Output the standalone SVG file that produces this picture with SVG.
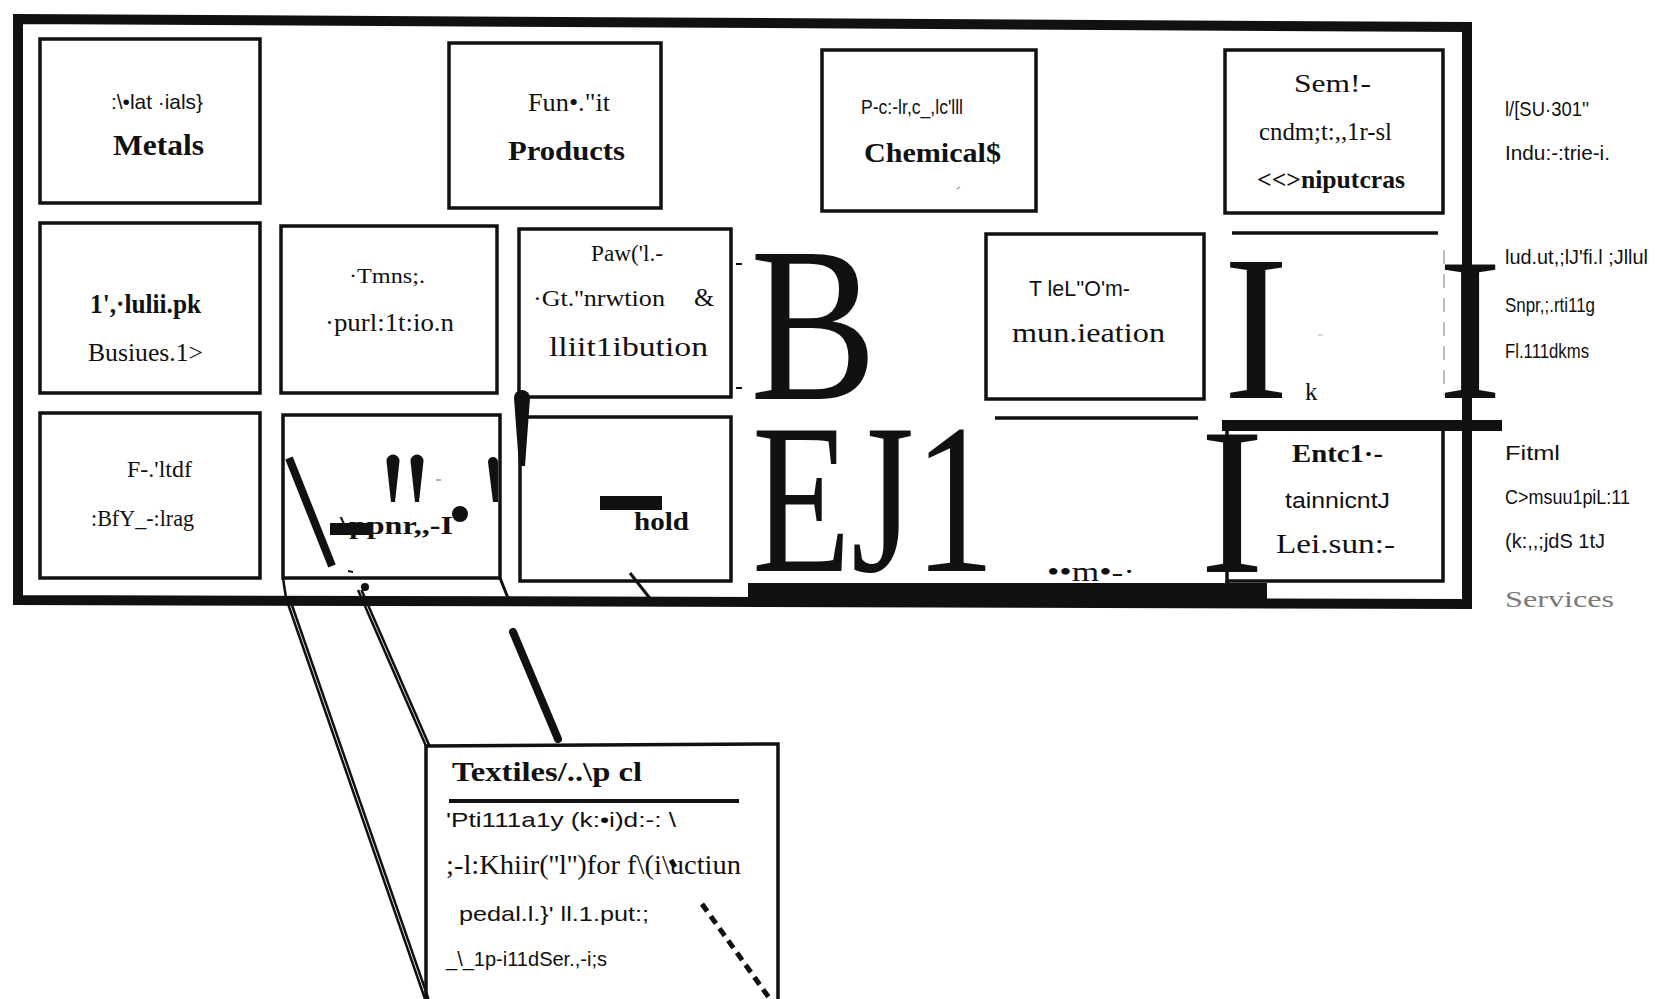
<svg xmlns="http://www.w3.org/2000/svg" width="1656" height="999" viewBox="0 0 1656 999">
<style>
.bx{fill:none;stroke:#111;stroke-width:3.5}
.sf{font-family:"Liberation Serif","Times New Roman",serif;fill:#111}
.ss{font-family:"Liberation Sans",Arial,sans-serif;fill:#111}
.b{font-weight:bold}
.big{font-family:"Liberation Serif","Times New Roman",serif;fill:#111}
.ln{stroke:#111;fill:none}
</style>
<rect width="1656" height="999" fill="#fff"/>
<g id="frame">
<path d="M18,19 L1467,27 L1467,604 L18,600 Z" fill="none" stroke="#111" stroke-width="10" stroke-linejoin="miter"/>
</g>
<g id="node-metals">
<rect class="bx" x="40" y="39" width="220" height="164"/>
<text class="ss" x="111" y="109" font-size="21" textLength="92" lengthAdjust="spacingAndGlyphs">:\•lat  ·ials}</text>
<text class="sf b" x="113" y="155" font-size="29" textLength="91" lengthAdjust="spacingAndGlyphs">Metals</text>
</g>
<g id="node-products">
<rect class="bx" x="449" y="43" width="212" height="165"/>
<text class="sf" x="528" y="111" font-size="25" textLength="82" lengthAdjust="spacingAndGlyphs">Fun•."it</text>
<text class="sf b" x="508" y="160" font-size="28" textLength="117" lengthAdjust="spacingAndGlyphs">Products</text>
</g>
<g id="node-chemicals">
<rect class="bx" x="822" y="50" width="214" height="161"/>
<text class="ss" x="861" y="114" font-size="21" textLength="102" lengthAdjust="spacingAndGlyphs">P-c:-lr,c_,lc'lll</text>
<text class="sf b" x="864" y="162" font-size="28" textLength="137" lengthAdjust="spacingAndGlyphs">Chemical$</text>
<line x1="960" y1="187" x2="957" y2="189" stroke="#999" stroke-width="1.5"/>
</g>
<g id="node-semiconductors">
<rect class="bx" x="1225" y="50" width="218" height="163"/>
<text class="sf" x="1294" y="92" font-size="26" textLength="77" lengthAdjust="spacingAndGlyphs">Sem!-</text>
<text class="sf" x="1259" y="140" font-size="26" textLength="133" lengthAdjust="spacingAndGlyphs">cndm;t:,,1r-sl</text>
<text class="sf b" x="1257" y="188" font-size="26" textLength="148" lengthAdjust="spacingAndGlyphs">&lt;&lt;&gt;niputcras</text>
</g>
<g id="label-basic-industries">
<text class="ss" x="1505" y="116" font-size="21" textLength="84" lengthAdjust="spacingAndGlyphs">l/[SU·301''</text>
<text class="ss" x="1505" y="160" font-size="21" textLength="105" lengthAdjust="spacingAndGlyphs">Indu:-:trie-i.</text>
</g>
<g id="node-public-works">
<rect class="bx" x="40" y="223" width="220" height="170"/>
<text class="sf b" x="90" y="313" font-size="27" textLength="111" lengthAdjust="spacingAndGlyphs">1',·lulii.pk</text>
<text class="sf" x="88" y="361" font-size="25" textLength="115" lengthAdjust="spacingAndGlyphs">Busiues.1&gt;</text>
</g>
<g id="node-transport">
<rect class="bx" x="281" y="226" width="216" height="167"/>
<text class="sf" x="349" y="283" font-size="22" textLength="76" lengthAdjust="spacingAndGlyphs">·Tmns;.</text>
<text class="sf" x="325" y="331" font-size="25" textLength="129" lengthAdjust="spacingAndGlyphs">·purl:1t:io.n</text>
</g>
<g id="node-power">
<rect class="bx" x="519" y="229" width="212" height="168"/>
<text class="sf" x="591" y="261" font-size="24" textLength="72" lengthAdjust="spacingAndGlyphs">Paw('l.-</text>
<text class="sf" x="533" y="306" font-size="24" textLength="132" lengthAdjust="spacingAndGlyphs">·Gt.''nrwtion</text>
<text class="sf" x="694" y="306" font-size="26">&amp;</text>
<text class="sf" x="549" y="356" font-size="27" textLength="159" lengthAdjust="spacingAndGlyphs">lliit1ibution</text>
<line x1="736" y1="264" x2="742" y2="264" stroke="#111" stroke-width="2"/>
<line x1="736" y1="388" x2="742" y2="388" stroke="#111" stroke-width="2"/>
</g>
<g id="big-letters">
<text class="big" x="750" y="399" font-size="220" textLength="127" lengthAdjust="spacingAndGlyphs">B</text>
<text class="big" x="752" y="571" font-size="215" textLength="243" lengthAdjust="spacingAndGlyphs">EJ1</text>
<text class="big" x="1223" y="398" font-size="207" textLength="66" lengthAdjust="spacingAndGlyphs">I</text>
<text class="big" x="1438" y="398" font-size="203" textLength="64" lengthAdjust="spacingAndGlyphs">I</text>
<text class="big" x="1200" y="572" font-size="210" textLength="64" lengthAdjust="spacingAndGlyphs">I</text>
<text class="sf" x="1305" y="400" font-size="25">k</text>
</g>
<g id="node-telecom">
<rect class="bx" x="986" y="234" width="218" height="165"/>
<text class="ss" x="1029" y="296" font-size="22" textLength="101" lengthAdjust="spacingAndGlyphs">T leL''O'm-</text>
<text class="sf" x="1012" y="342" font-size="27" textLength="153" lengthAdjust="spacingAndGlyphs">mun.ieation</text>
</g>
<g id="node-hidden">
<line class="ln" x1="1232" y1="233" x2="1438" y2="233" stroke-width="3.5"/>
<line x1="1444" y1="250" x2="1444" y2="395" stroke="#bbb" stroke-width="2" stroke-dasharray="14 10"/>
<line x1="1318" y1="335" x2="1323" y2="335" stroke="#ccc" stroke-width="1.5"/>
</g>
<g id="label-supporting-functions">
<text class="ss" x="1505" y="264" font-size="21" textLength="143" lengthAdjust="spacingAndGlyphs">lud.ut,;lJ'fi.l ;Jllul</text>
<text class="ss" x="1505" y="312" font-size="21" textLength="90" lengthAdjust="spacingAndGlyphs">Snpr,;.rti11g</text>
<text class="ss" x="1505" y="358" font-size="21" textLength="84" lengthAdjust="spacingAndGlyphs">Fl.111dkms</text>
</g>
<g id="node-retail">
<rect class="bx" x="40" y="413" width="220" height="165"/>
<text class="sf" x="127" y="477" font-size="24" textLength="65" lengthAdjust="spacingAndGlyphs">F-.'ltdf</text>
<text class="sf" x="91" y="526" font-size="24" textLength="103" lengthAdjust="spacingAndGlyphs">:BfY_-:lrag</text>
</g>
<g id="node-apparel">
<rect class="bx" x="283" y="415" width="217" height="163"/>
<line class="ln" x1="289" y1="458" x2="332" y2="566" stroke-width="8"/>
<path d="M386.5,461 A6.5,6.5 0 0 1 399.5,461 L395,502 L391,502 Z" fill="#111"/>
<path d="M410.5,461 A6.5,6.5 0 0 1 423.5,461 L419,502 L415,502 Z" fill="#111"/>
<path d="M488,462 A5,5 0 0 1 498,462 L498,502 L493,502 Z" fill="#111"/>
<rect x="330" y="523" width="40" height="12" fill="#111"/>
<text class="sf b" x="340" y="534" font-size="26" textLength="113" lengthAdjust="spacingAndGlyphs">\ppnr,,-I</text>
<circle cx="460" cy="514" r="8" fill="#111"/>
<line x1="436" y1="480" x2="441" y2="480" stroke="#999" stroke-width="1.5"/>
<line x1="348" y1="571" x2="353" y2="572" stroke="#111" stroke-width="2"/>
</g>
<g id="node-household">
<rect class="bx" x="520" y="417" width="211" height="164"/>
<rect x="600" y="496" width="62" height="14" fill="#111"/>
<text class="sf b" x="634" y="530" font-size="26" textLength="55" lengthAdjust="spacingAndGlyphs">hold</text>
<path d="M514,398 A8,8 0 0 1 530,398 L525,466 L519,466 Z" fill="#111"/>
</g>
<g id="node-consumer-bar">
<line class="ln" x1="995" y1="418" x2="1198" y2="418" stroke-width="3.5"/>
<rect x="748" y="583" width="519" height="18" fill="#111"/>
<text class="sf" x="1047" y="581" font-size="28" textLength="88" lengthAdjust="spacingAndGlyphs">••m•-·</text>
</g>
<g id="node-entertainment">
<rect class="bx" x="1227" y="428" width="216" height="153"/>
<rect x="1222" y="420" width="280" height="11" fill="#111"/>
<line class="ln" x1="1227" y1="581" x2="1227" y2="600" stroke-width="4"/>
<text class="sf b" x="1292" y="462" font-size="26" textLength="91" lengthAdjust="spacingAndGlyphs">Entc1·-</text>
<text class="ss" x="1285" y="508" font-size="22" textLength="105" lengthAdjust="spacingAndGlyphs">tainnicntJ</text>
<text class="sf" x="1276" y="553" font-size="28" textLength="119" lengthAdjust="spacingAndGlyphs">Lei.sun:-</text>
</g>
<g id="label-final-consumption">
<text class="ss" x="1505" y="460" font-size="21" textLength="55" lengthAdjust="spacingAndGlyphs">Fitml</text>
<text class="ss" x="1505" y="504" font-size="21" textLength="125" lengthAdjust="spacingAndGlyphs">C&gt;msuu1piL:11</text>
<text class="ss" x="1505" y="548" font-size="21" textLength="100" lengthAdjust="spacingAndGlyphs">(k:,,;jdS 1tJ</text>
<text class="sf" x="1505" y="607" font-size="24" style="fill:#7a7a7a" textLength="109" lengthAdjust="spacingAndGlyphs">Services</text>
</g>
<g id="connectors">
<line class="ln" x1="283" y1="578" x2="286" y2="598" stroke-width="2.5"/>
<line class="ln" x1="286" y1="598" x2="425" y2="999" stroke-width="2.5"/>
<line class="ln" x1="289.5" y1="598" x2="428.5" y2="999" stroke-width="2.5"/>
<line class="ln" x1="358" y1="590" x2="426" y2="746" stroke-width="2.5"/>
<line class="ln" x1="361.5" y1="590" x2="429.5" y2="746" stroke-width="2.5"/>
<circle cx="365" cy="587" r="4" fill="#111"/>
<line class="ln" x1="500" y1="578" x2="508" y2="598" stroke-width="3"/>
<line class="ln" x1="630" y1="573" x2="652" y2="601" stroke-width="3"/>
<line class="ln" x1="513" y1="632" x2="558" y2="739" stroke-width="8" stroke-linecap="round"/>
<line class="ln" x1="671" y1="860" x2="675" y2="867" stroke-width="5"/>
<line class="ln" x1="702" y1="904" x2="770" y2="999" stroke-width="5" stroke-dasharray="9 6"/>
</g>
<g id="node-textiles">
<path d="M426,999 L426,746 L778,744 L778,999" fill="none" stroke="#111" stroke-width="3.5"/>
<text class="sf b" x="452" y="781" font-size="28" textLength="190" lengthAdjust="spacingAndGlyphs">Textiles/..\p cl</text>
<line class="ln" x1="449" y1="801" x2="739" y2="801" stroke-width="4"/>
<text class="ss" x="446" y="827" font-size="21" textLength="230" lengthAdjust="spacingAndGlyphs">'Pti111a1y (k:•i)d:-: \</text>
<text class="sf" x="446" y="874" font-size="28" textLength="295" lengthAdjust="spacingAndGlyphs">;-l:Khiir(''l'')for f\(i\uctiun</text>
<text class="ss" x="459" y="921" font-size="21" textLength="190" lengthAdjust="spacingAndGlyphs">pedal.l.}' ll.1.put:;</text>
<text class="ss" x="446" y="966" font-size="20" textLength="161" lengthAdjust="spacingAndGlyphs">_\_1p-i11dSer.,-i;s</text>
</g>
</svg>
